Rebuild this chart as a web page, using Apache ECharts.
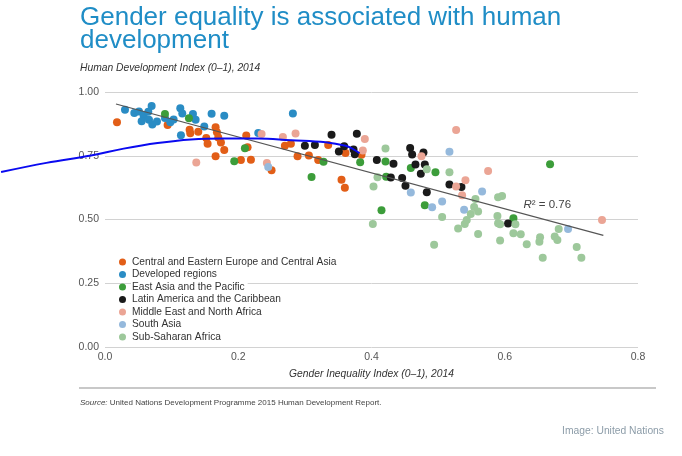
<!DOCTYPE html>
<html>
<head>
<meta charset="utf-8">
<script src="https://cdn.jsdelivr.net/npm/echarts@6/dist/echarts.min.js"></script>
<style>
html, body { margin: 0; padding: 0; background: #fff; }
#chart { width: 682px; height: 456px; }
</style>
</head>
<body>
<div id="chart"></div>
<script>
// regions, in legend order
var regionNames = ['Central and Eastern Europe and Central Asia', 'Developed regions', 'East Asia and the Pacific',
	'Latin America and the Caribbean', 'Middle East and North Africa', 'South Asia', 'Sub-Saharan Africa'];
var regionColors = ['#e25e17', '#2a8cc4', '#3c9d3a', '#1a1a1a', '#eba595', '#95b9dc', '#9dc89b'];

// [gender inequality index, human development index]
var europeCentralAsia = [[0.018, 0.881], [0.094, 0.871], [0.127, 0.852], [0.128, 0.838], [0.140, 0.844], [0.152, 0.820],
	[0.154, 0.797], [0.166, 0.862], [0.168, 0.842], [0.170, 0.822], [0.174, 0.802], [0.179, 0.773], [0.166, 0.748],
	[0.204, 0.733], [0.212, 0.829], [0.214, 0.783], [0.219, 0.734], [0.250, 0.693], [0.270, 0.789], [0.279, 0.797],
	[0.289, 0.748], [0.306, 0.751], [0.320, 0.733], [0.335, 0.792], [0.355, 0.656], [0.360, 0.625], [0.361, 0.761],
	[0.385, 0.754]];
var developed = [[0.030, 0.930], [0.044, 0.918], [0.051, 0.924], [0.058, 0.907], [0.065, 0.923], [0.070, 0.945],
	[0.055, 0.885], [0.066, 0.891], [0.071, 0.873], [0.078, 0.884], [0.090, 0.898], [0.098, 0.881], [0.103, 0.892],
	[0.113, 0.936], [0.116, 0.916], [0.132, 0.914], [0.136, 0.891], [0.149, 0.865], [0.160, 0.915], [0.179, 0.907],
	[0.114, 0.830], [0.230, 0.839], [0.282, 0.916]];
var eastAsiaPacific = [[0.090, 0.914], [0.126, 0.897], [0.194, 0.728], [0.210, 0.779], [0.310, 0.667], [0.328, 0.726],
	[0.383, 0.725], [0.421, 0.727], [0.422, 0.668], [0.459, 0.702], [0.496, 0.685], [0.480, 0.556], [0.415, 0.536],
	[0.613, 0.505], [0.668, 0.717]];
var latinAmerica = [[0.300, 0.789], [0.315, 0.792], [0.340, 0.832], [0.351, 0.767], [0.359, 0.787], [0.373, 0.775],
	[0.375, 0.756], [0.378, 0.836], [0.408, 0.733], [0.433, 0.719], [0.429, 0.665], [0.446, 0.663], [0.451, 0.632],
	[0.458, 0.780], [0.461, 0.755], [0.478, 0.763], [0.466, 0.716], [0.480, 0.716], [0.474, 0.679], [0.483, 0.607],
	[0.517, 0.637], [0.535, 0.627], [0.605, 0.484]];
var middleEast = [[0.137, 0.724], [0.235, 0.835], [0.243, 0.722], [0.267, 0.824], [0.286, 0.837], [0.390, 0.816],
	[0.387, 0.771], [0.475, 0.748], [0.527, 0.851], [0.527, 0.629], [0.541, 0.654], [0.536, 0.595], [0.575, 0.690],
	[0.746, 0.498]];
var southAsia = [[0.245, 0.706], [0.459, 0.606], [0.491, 0.548], [0.506, 0.571], [0.517, 0.766], [0.539, 0.538],
	[0.566, 0.610], [0.695, 0.463]];
var subSaharan = [[0.402, 0.482], [0.403, 0.629], [0.409, 0.666], [0.421, 0.778], [0.483, 0.697], [0.494, 0.401],
	[0.506, 0.510], [0.517, 0.685], [0.530, 0.465], [0.540, 0.482], [0.543, 0.498], [0.549, 0.522], [0.554, 0.549],
	[0.560, 0.531], [0.556, 0.580], [0.560, 0.443], [0.590, 0.587], [0.596, 0.592], [0.589, 0.514], [0.590, 0.485],
	[0.593, 0.481], [0.593, 0.418], [0.616, 0.481], [0.613, 0.446], [0.624, 0.442], [0.633, 0.403], [0.653, 0.430],
	[0.652, 0.413], [0.657, 0.350], [0.675, 0.433], [0.679, 0.420], [0.681, 0.463], [0.708, 0.392], [0.715, 0.350]];
var regionData = [europeCentralAsia, developed, eastAsiaPacific, latinAmerica, middleEast, southAsia, subSaharan];

// fitted line ends and its R² note
var trendLine = [[0.0165, 0.953], [0.748, 0.438]];
var r2Note = [0.628, 0.557];
// blue hand-drawn curve over the chart (starts left of the plot)
var blueCurve = [[-0.156, 0.686], [-0.088, 0.722], [-0.021, 0.751], [0.028, 0.778], [0.079, 0.800], [0.129, 0.814],
	[0.178, 0.818], [0.229, 0.818], [0.279, 0.811], [0.331, 0.803], [0.361, 0.789], [0.373, 0.775], [0.382, 0.760]];

var xTicks = [0, 0.2, 0.4, 0.6, 0.8];
var yTicks = [0, 0.25, 0.5, 0.75, 1];
// the extra hidden axis for the curve reaches to the page's left edge
var curveXMin = -0.1576;

var font = 'Liberation Sans, Arial, Helvetica, sans-serif';

var series = [];
for (var i = 0; i < regionNames.length; i++) {
	series.push({
		name: regionNames[i],
		type: 'scatter',
		symbolSize: 8,
		itemStyle: { color: regionColors[i], opacity: 1 },
		data: regionData[i]
	});
}
series.push({
	type: 'line',
	data: trendLine,
	symbol: 'none',
	silent: true,
	lineStyle: { color: '#555', width: 1.2 },
	markPoint: {
		symbol: 'circle',
		symbolSize: 0,
		label: {
			show: true,
			position: 'right',
			distance: 0,
			formatter: '{i|R}² = 0.76',
			fontFamily: font,
			fontSize: 11.5,
			color: '#444',
			rich: { i: { fontStyle: 'italic', fontFamily: font, fontSize: 11.5, color: '#444' } }
		},
		data: [{ coord: r2Note }]
	}
});
series.push({
	type: 'line',
	xAxisIndex: 1,
	yAxisIndex: 1,
	data: blueCurve,
	smooth: 0.4,
	symbol: 'none',
	silent: true,
	lineStyle: { color: '#0a0af0', width: 2 }
});

var chart = echarts.init(document.getElementById('chart'));
chart.setOption({
	animation: false,
	backgroundColor: '#fff',
	textStyle: { fontFamily: font },
	title: [{
		text: 'Gender equality is associated with human\ndevelopment',
		left: 80,
		top: 6,
		padding: 0,
		textStyle: { fontFamily: font, fontSize: 26, lineHeight: 23, fontWeight: 'normal', color: '#1f8dc6' }
	}, {
		text: 'Human Development Index (0–1), 2014',
		left: 80,
		top: 63,
		padding: 0,
		textStyle: { fontFamily: font, fontSize: 10.3, fontStyle: 'italic', fontWeight: 'normal', color: '#333' }
	}, {
		text: '{i|Source:} United Nations Development Programme 2015 Human Development Report.',
		left: 80,
		top: 399,
		padding: 0,
		textStyle: {
			fontFamily: font, fontSize: 8, fontWeight: 'normal', color: '#444',
			rich: { i: { fontStyle: 'italic', fontFamily: font, fontSize: 8, color: '#444' } }
		}
	}, {
		text: 'Image: United Nations',
		right: 18,
		top: 426,
		padding: 0,
		textStyle: { fontFamily: font, fontSize: 10.3, fontWeight: 'normal', color: '#8c9ca8' }
	}],
	legend: {
		orient: 'vertical',
		left: 114,
		top: 251,
		icon: 'circle',
		itemWidth: 7,
		itemHeight: 7,
		itemGap: 0.5,
		data: regionNames,
		textStyle: { fontFamily: font, fontSize: 10.2, color: '#333', lineHeight: 12, backgroundColor: '#fff', padding: [0, 3, 0, 1] }
	},
	grid: [
		{ left: 105, top: 92, width: 533, height: 255 },
		{ left: 0, top: 92, width: 638, height: 255 }
	],
	xAxis: [{
		type: 'value',
		min: xTicks[0],
		max: xTicks[xTicks.length - 1],
		interval: 0.2,
		name: 'Gender Inequality Index (0–1), 2014',
		nameLocation: 'middle',
		nameGap: 22,
		nameTextStyle: { fontFamily: font, fontSize: 10.3, fontStyle: 'italic', color: '#333' },
		axisLine: { show: false },
		axisTick: { show: false },
		splitLine: { show: false },
		axisLabel: { margin: 5, fontSize: 10.5, color: '#555', formatter: function (v) { return v.toFixed(1); } }
	}, {
		type: 'value',
		gridIndex: 1,
		min: curveXMin,
		max: xTicks[xTicks.length - 1],
		show: false
	}],
	yAxis: [{
		type: 'value',
		min: yTicks[0],
		max: yTicks[yTicks.length - 1],
		interval: 0.25,
		axisLine: { show: false },
		axisTick: { show: false },
		splitLine: { lineStyle: { color: '#d2d2d2', width: 1 } },
		axisLabel: { margin: 6, fontSize: 10.5, color: '#555', formatter: function (v) { return v.toFixed(2); } }
	}, {
		type: 'value',
		gridIndex: 1,
		min: yTicks[0],
		max: yTicks[yTicks.length - 1],
		show: false
	}],
	graphic: [{
		type: 'line',
		shape: { x1: 79, y1: 388, x2: 656, y2: 388 },
		style: { stroke: '#c8c8c8', lineWidth: 2 }
	}],
	series: series
});
</script>
</body>
</html>
